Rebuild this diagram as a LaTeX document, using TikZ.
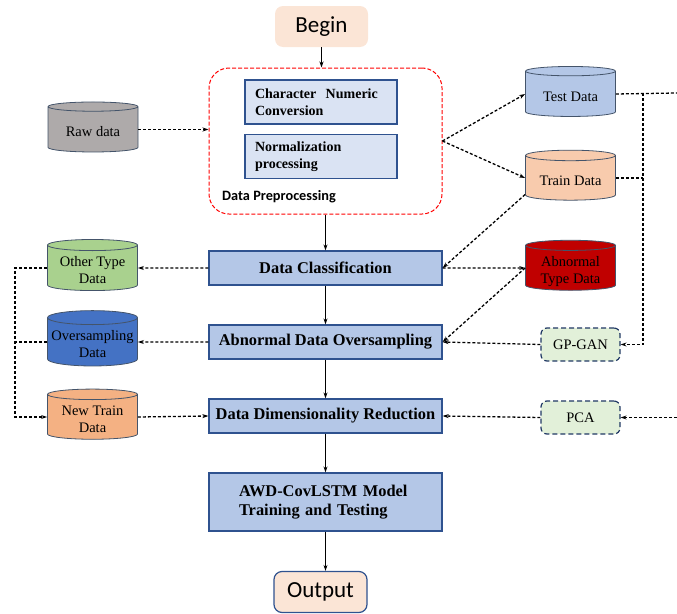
\documentclass[tikz,border=0pt]{standalone}
\usepackage{fontspec}
\setmainfont{Liberation Serif}
\newfontfamily\carlito{Carlito}
\usetikzlibrary{arrows.meta, shapes.geometric}
\definecolor{boxBlue}{HTML}{B4C7E7}
\definecolor{boxPale}{HTML}{DAE3F3}
\definecolor{boxLine}{HTML}{2F528F}
\definecolor{peach}{HTML}{FBE5D6}
\definecolor{cylLine}{HTML}{44546A}
\definecolor{rawGray}{HTML}{AEAAAA}
\definecolor{trainPeach}{HTML}{F8CBAD}
\definecolor{otherGreen}{HTML}{A9D18E}
\definecolor{abnRed}{HTML}{C00000}
\definecolor{ovsBlue}{HTML}{4472C4}
\definecolor{newOrange}{HTML}{F4B183}
\definecolor{toolGreen}{HTML}{E2F0D9}
\definecolor{toolLine}{HTML}{203864}
% text sits a little low in the cylinder body
\newcommand{\cyltext}[1]{\raisebox{-4pt}[\height][\depth]{\begin{tabular}{@{}c@{}}#1\end{tabular}}}

\begin{document}
\begin{tikzpicture}[x=1pt, y=-1pt,
  stepbox/.style={draw=boxLine, fill=boxBlue, line width=1.2pt, minimum width=233pt, minimum height=34pt, inner sep=0pt, font=\fontsize{16.4}{19}\selectfont\bfseries},
  prebox/.style={draw=boxLine, fill=boxPale, line width=1.2pt, minimum width=152pt, minimum height=44pt, text width=132pt, align=left, inner sep=0pt, font=\fontsize{14}{17}\selectfont\bfseries},
  endbox/.style={rounded corners=8pt, minimum width=93pt, minimum height=41pt, inner sep=0pt, font=\carlito\fontsize{23}{26}\selectfont},
  store/.style={cylinder, shape border rotate=90, aspect=0.17, draw=cylLine, line width=0.8pt, minimum width=90pt, minimum height=50pt, inner sep=0pt, font=\fontsize{14.5}{17}\selectfont},
  tool/.style={draw=toolLine, fill=toolGreen, dashed, dash pattern=on 5pt off 3pt, line width=1.2pt, rounded corners=6pt, minimum width=79pt, minimum height=33pt, font=\fontsize{14.5}{16}\selectfont},
  flow/.style={-{Stealth[length=6pt,width=4pt]}, line width=0.9pt},
  dashline/.style={line width=1.3pt, dash pattern=on 3pt off 2pt},
  dataflow/.style={dashline, -{Stealth[length=6pt,width=4pt]}},
]
  \useasboundingbox (0,0) rectangle (677,613);

  % --- Main column ---
  \node[endbox, fill=peach] (begin) at (321.5,26.5) {Begin};
  \node[draw=red, dashed, dash pattern=on 4pt off 2pt, line width=1pt, rounded corners=20pt,
        minimum width=233pt, minimum height=146pt] (prep) at (325.5,141) {};
  \node[prebox] (conv) at (321,102) {Character~ Numeric\\Conversion};
  \node[prebox] (norm) at (321,156.5) {Normalization\\processing};
  \node[anchor=west, inner sep=0pt, font=\carlito\bfseries\fontsize{14.3}{16}\selectfont] (preplabel) at (222,197) {Data Preprocessing};
  \node[stepbox] (cls) at (325.5,268) {Data Classification};
  \node[stepbox] (ovs) at (325.5,342) {Abnormal Data Oversampling};
  \node[stepbox] (dim) at (325.5,416) {Data Dimensionality Reduction};
  \node[stepbox, minimum height=58pt, text width=173pt, align=left] (awd) at (325.5,502) {AWD-CovLSTM Model\\Training and Testing};
  \node[endbox, fill=peach, draw=boxLine, line width=1.2pt] (out) at (320.5,592) {Output};

  \draw[flow] (begin.south) -- (begin.south |- prep.north);
  \draw[flow] (prep.south) -- (cls.north);
  \draw[flow] (cls.south) -- (ovs.north);
  \draw[flow] (ovs.south) -- (dim.north);
  \draw[flow] (dim.south) -- (awd.north);
  \draw[flow] (awd.south) -- (awd.south |- out.north);

  % --- Data stores ---
  \node[store, fill=rawGray] (raw) at (93,129.5) {\cyltext{Raw data}};
  \node[store, fill=boxBlue] (test) at (570.5,94) {\cyltext{Test Data}};
  \node[store, fill=trainPeach] (train) at (570.5,178) {\cyltext{Train Data}};
  \node[store, fill=otherGreen] (other) at (92.5,268) {\cyltext{Other Type\\Data}};
  \node[store, fill=abnRed] (abn) at (570.5,268) {\cyltext{Abnormal\\Type Data}};
  \node[store, fill=ovsBlue] (ovsdata) at (92.5,342) {\cyltext{Oversampling\\Data}};
  \node[store, fill=newOrange] (newtrain) at (92.5,417) {\cyltext{New Train\\Data}};

  % --- Methods ---
  \node[tool] (gpgan) at (580.5,344.5) {GP-GAN};
  \node[tool] (pca) at (580.5,417.5) {PCA};

  % --- Dashed data links ---
  \coordinate (lbus) at (15,0);
  \coordinate (rbus) at (643,0);
  \coordinate (testfar) at (677,93);
  \coordinate (pcafar) at (677,417.5);

  \draw[dataflow] (raw.east) -- (raw.east -| prep.west);
  \draw[dataflow] (prep.east) -- (test.west);
  \draw[dataflow] (prep.east) -- (train.west);
  \draw[dataflow] (train.200) -- (cls.east);
  \draw[dataflow] (cls.east) -- (abn.west);
  \draw[dataflow] (abn.west) -- (ovs.east);
  \draw[dataflow] (cls.west) -- (other.east);
  \draw[dataflow] (ovs.west) -- (ovsdata.east);
  \draw[dataflow] (newtrain.east) -- (dim.west);
  \draw[dataflow] (other.west) -- (other.west -| lbus) -- (lbus |- newtrain.west) -- (newtrain.west);
  \draw[dashline] (ovsdata.west) -- (ovsdata.west -| lbus);

  \draw[dashline] (test.east) -- (testfar);
  \draw[dashline] (train.east) -- (train.east -| rbus);
  \draw[dataflow] (testfar -| rbus) -- (rbus |- gpgan.east) -- (gpgan.east);
  \draw[dataflow] (gpgan.west) -- (ovs.east);
  \draw[dataflow] (pcafar) -- (pca.east);
  \draw[dataflow] (pca.west) -- (dim.east);
\end{tikzpicture}
\end{document}
